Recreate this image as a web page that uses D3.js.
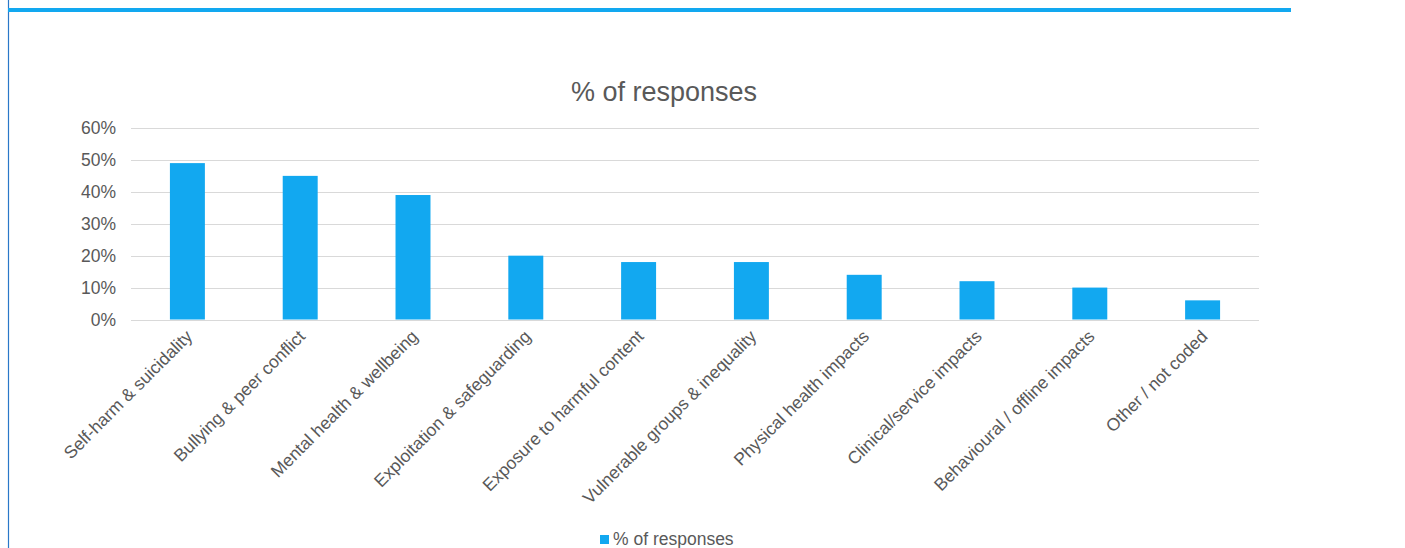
<!DOCTYPE html>
<html>
<head>
<meta charset="utf-8">
<script src="https://cdn.jsdelivr.net/npm/d3@7"></script>
<style>
  body { margin: 0; background: #fff; }
  svg { display: block; font-family: "Liberation Sans", Arial, sans-serif; }
</style>
</head>
<body>
<svg id="chart" width="1405" height="548"></svg>
<script>
// chart data
const categories = [
  "Self-harm & suicidality",
  "Bullying & peer conflict",
  "Mental health & wellbeing",
  "Exploitation & safeguarding",
  "Exposure to harmful content",
  "Vulnerable groups & inequality",
  "Physical health impacts",
  "Clinical/service impacts",
  "Behavioural / offline impacts",
  "Other / not coded"
];
const values = [0.49, 0.45, 0.39, 0.20, 0.18, 0.18, 0.14, 0.12, 0.10, 0.06];
const yTicks = [0, 0.1, 0.2, 0.3, 0.4, 0.5, 0.6];
const seriesName = "% of responses";

const svg = d3.select('#chart');
const textColor = '#595959';
const barColor = '#12a8f0';

// frame bits: left border and top accent bar
svg.append('line')
   .attr('x1', 8.5).attr('x2', 8.5)
   .attr('y1', 0).attr('y2', 548)
   .attr('stroke', '#2a78c8').attr('stroke-width', 1.2);

svg.append('rect')
   .attr('x', 8).attr('y', 8)
   .attr('width', 1283).attr('height', 4)
   .attr('fill', '#12a8f0');

const margin = {left: 131, right: 1259, top: 128, bottom: 319.5};

const x = d3.scaleBand()
            .domain(categories)
            .range([margin.left, margin.right])
            .paddingInner(0.69)
            .paddingOuter(0.345);

const y = d3.scaleLinear()
            .domain([0, 0.6])
            .range([margin.bottom, margin.top]);

// gridlines
svg.append('g')
   .selectAll('line')
   .data(yTicks)
   .join('line')
   .attr('x1', margin.left)
   .attr('x2', margin.right)
   .attr('y1', d => Math.round(y(d)) + 0.5)
   .attr('y2', d => Math.round(y(d)) + 0.5)
   .attr('stroke', '#d9d9d9')
   .attr('stroke-width', 1);

// y axis labels
const yAxis = svg.append('g')
   .attr('transform', `translate(${margin.left - 15},0)`)
   .call(d3.axisLeft(y).tickValues(yTicks).tickFormat(d3.format('.0%')).tickSize(0).tickPadding(0));
yAxis.select('.domain').remove();
yAxis.selectAll('text')
     .attr('fill', textColor)
     .style('font-size', '17.5px')
     .style('font-family', '"Liberation Sans", Arial, sans-serif');

// bars
svg.append('g')
   .selectAll('rect')
   .data(values)
   .join('rect')
   .attr('x', (d, i) => x(categories[i]))
   .attr('y', d => y(d))
   .attr('width', x.bandwidth())
   .attr('height', d => y(0) - y(d))
   .attr('fill', barColor);

// category labels, rotated
svg.append('g')
   .selectAll('text')
   .data(categories)
   .join('text')
   .attr('transform', d => `translate(${x(d) + x.bandwidth() / 2 + 6},${margin.bottom + 18}) rotate(-45)`)
   .attr('text-anchor', 'end')
   .attr('fill', textColor)
   .style('font-size', '17.5px')
   .text(d => d);

// title
svg.append('text')
   .attr('x', 664)
   .attr('y', 101)
   .attr('text-anchor', 'middle')
   .attr('fill', textColor)
   .style('font-size', '27px')
   .text(seriesName);

// legend
svg.append('rect')
   .attr('x', 600).attr('y', 535)
   .attr('width', 9).attr('height', 9)
   .attr('fill', barColor);
svg.append('text')
   .attr('x', 613)
   .attr('y', 545)
   .attr('fill', textColor)
   .style('font-size', '17.5px')
   .text(seriesName);
</script>
</body>
</html>
